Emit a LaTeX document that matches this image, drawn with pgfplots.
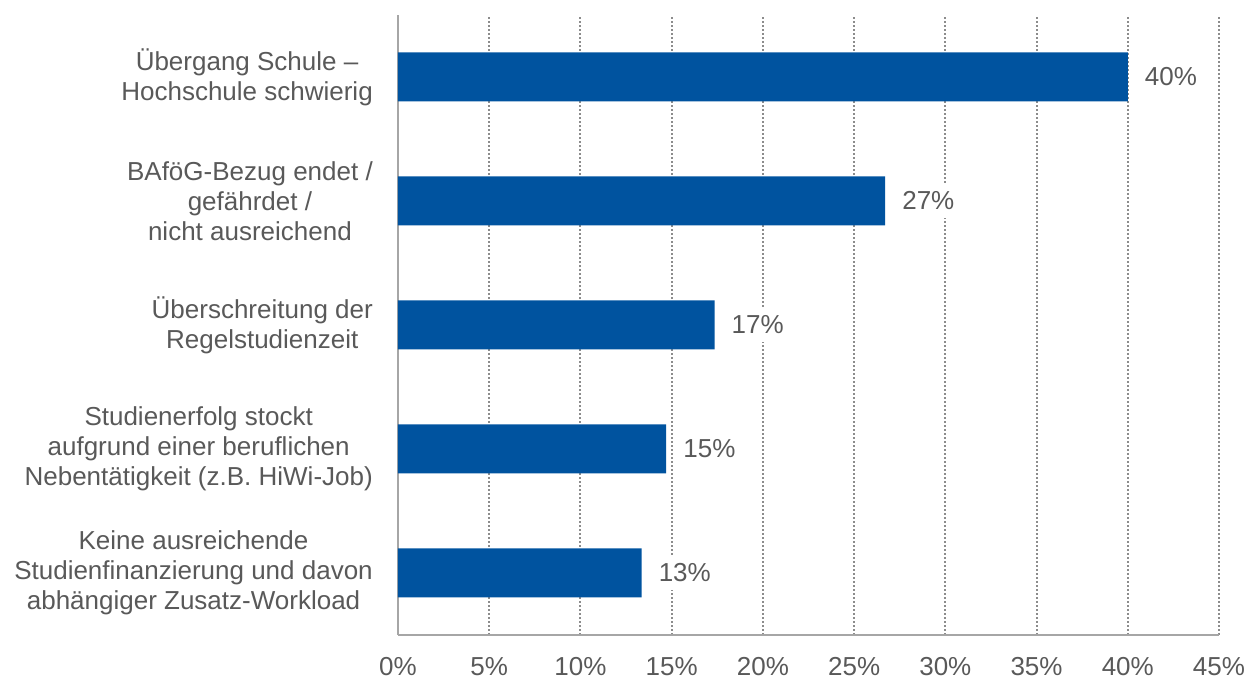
\documentclass[border=0pt]{standalone}
\usepackage{pgfplots}
\pgfplotsset{compat=1.18}
\usepackage{fontspec}
\setmainfont{Liberation Sans}
\definecolor{barblue}{HTML}{00539F}
\definecolor{txt}{HTML}{595959}
\definecolor{axgray}{HTML}{A6A6A6}
\definecolor{gridgray}{HTML}{8C8C8C}
\begin{document}
\begin{tikzpicture}
\begin{axis}[
  name=ax,
  scale only axis,
  width=821pt, height=620pt,
  xbar, bar width=49pt,
  xmin=0, xmax=45,
  ymin=-0.5, ymax=4.5,
  /pgf/number format/assume math mode=true,
  ytick={0,1,2,3,4},
  yticklabels={
    {Keine ausreichende\\Studienfinanzierung und davon\\abhängiger Zusatz-Workload},
    {Studienerfolg stockt\\aufgrund einer beruflichen\\Nebentätigkeit (z.B. HiWi-Job)},
    {Überschreitung der\\Regelstudienzeit},
    {BAföG-Bezug endet /\\gefährdet /\\nicht ausreichend},
    {Übergang Schule –\\Hochschule schwierig}},
  xtick={0,5,...,45},
  xticklabel={\pgfmathprintnumber[assume math mode=true]{\tick}\%},
  major tick length=0pt,
  axis lines*=left,
  axis line style={axgray, line width=1.5pt},
  xmajorgrids=true, ymajorgrids=false,
  major grid style={gridgray, line width=2pt, dash pattern=on 2pt off 2pt},
  yticklabel style={font=\fontsize{26}{30}\selectfont, text=txt, align=center, inner sep=0pt, xshift=-25pt},
  xticklabel style={font=\fontsize{26}{30}\selectfont, text=txt, inner sep=0pt, anchor=north, yshift=-22pt},
  nodes near coords={\pgfmathprintnumber[fixed,precision=0,assume math mode=true]{\pgfplotspointmeta}\%},
  every node near coord/.append style={font=\fontsize{26}{30}\selectfont, text=txt, fill=white, inner xsep=4pt, inner ysep=8pt, anchor=west, xshift=13pt},
]
\addplot[fill=barblue, draw=none] coordinates {
  (13.35,0)
  (14.7,1)
  (17.35,2)
  (26.7,3)
  (40.0,4)
};
\end{axis}
\pgfresetboundingbox
\path ([xshift=-398pt,yshift=-44pt]ax.south west) rectangle ++(1257pt,679pt);
\end{tikzpicture}
\end{document}
